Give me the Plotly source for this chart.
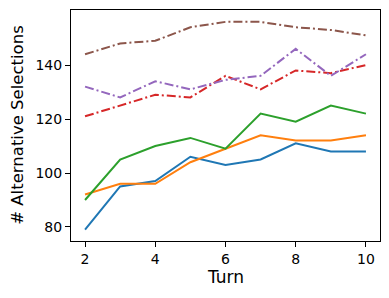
import plotly.graph_objects as go

turns = [2, 3, 4, 5, 6, 7, 8, 9, 10]
blue = [79, 95, 97, 106, 103, 105, 111, 108, 108]
orange = [92, 96, 96, 104, 109, 114, 112, 112, 114]
green = [90, 105, 110, 113, 109, 122, 119, 125, 122]
red = [121, 125, 129, 128, 136, 131, 138, 137, 140]
purple = [132, 128, 134, 131, 134.5, 136, 146, 136, 144]
brown = [144, 148, 149, 154, 156, 156, 154, 153, 151]

series = [
    (blue, "#1f77b4", "solid"),
    (orange, "#ff7f0e", "solid"),
    (green, "#2ca02c", "solid"),
    (red, "#d62728", "9px,3px,2px,3px"),
    (purple, "#9467bd", "9px,3px,2px,3px"),
    (brown, "#8c564b", "9px,3px,2px,3px"),
]

fig = go.Figure()
for vals, color, dash in series:
    fig.add_trace(go.Scatter(x=turns, y=vals, mode="lines",
                             line=dict(color=color, width=2, dash=dash),
                             showlegend=False))

axis_common = dict(showline=True, linecolor="black", linewidth=1, mirror=True,
                   ticks="outside", ticklen=5, tickcolor="black", showgrid=False,
                   zeroline=False, automargin=False,
                   tickfont=dict(size=14, color="black"))
fig.update_xaxes(range=[1.6, 10.4], tickvals=[2, 4, 6, 8, 10], **axis_common)
fig.update_yaxes(range=[74.8, 160.4], tickvals=[80, 100, 120, 140], **axis_common)

fig.add_annotation(text="Turn", xref="paper", yref="paper", x=0.5, y=-0.156,
                   xanchor="center", yanchor="middle", showarrow=False,
                   font=dict(size=17, color="black"))
fig.add_annotation(text="# Alternative Selections", xref="paper", yref="paper",
                   x=-0.174, y=0.5, xanchor="center", yanchor="middle", textangle=-90,
                   showarrow=False, font=dict(size=16.5, color="black"))

# page body has an 8px default margin, so the figure is sized to fit the window
fig.update_layout(width=373, height=282, margin=dict(l=63, r=1, t=2, b=49),
                  plot_bgcolor="white", paper_bgcolor="white",
                  font=dict(family="DejaVu Sans", color="black"))
fig.write_html("out.html")
